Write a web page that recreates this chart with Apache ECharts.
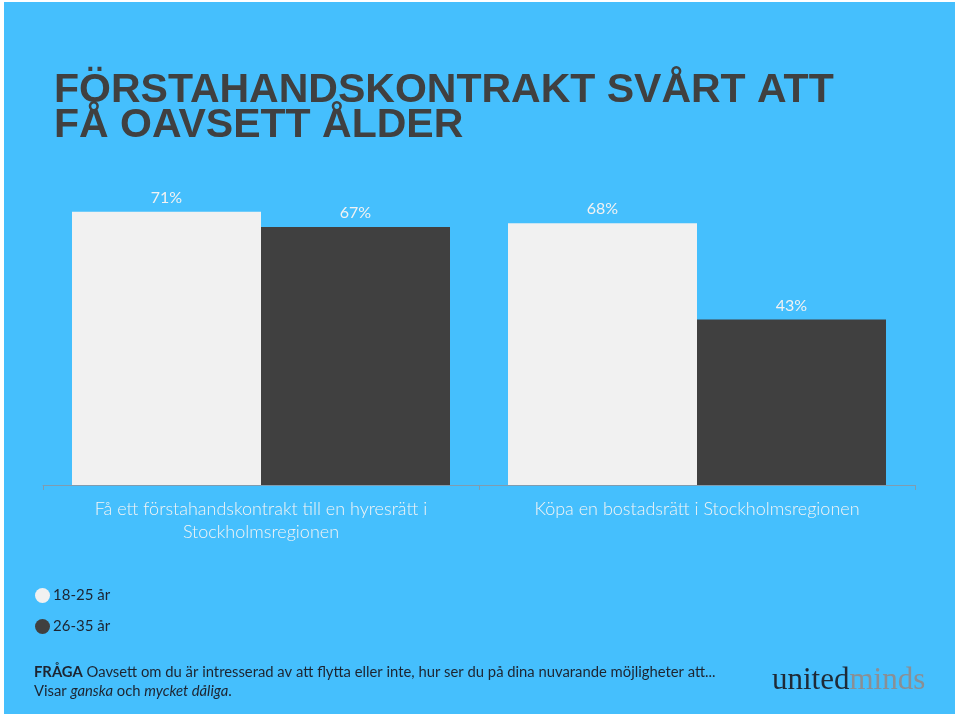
<!DOCTYPE html>
<html><head><meta charset="utf-8">
<script src="https://cdn.jsdelivr.net/npm/echarts@6/dist/echarts.min.js"></script>
<style>html,body{margin:0;padding:0;background:#fff}#c{width:960px;height:716px}</style>
</head><body><div id="c"></div>
<script>
const categories = ['Få ett förstahandskontrakt till en hyresrätt i\nStockholmsregionen', 'Köpa en bostadsrätt i Stockholmsregionen'];
const seriesNames = ['18-25 år', '26-35 år'];
const young = [71, 68];
const older = [67, 43];
const titleText = 'FÖRSTAHANDSKONTRAKT SVÅRT ATT\nFÅ OAVSETT ÅLDER';

const chart = echarts.init(document.getElementById('c'), null, {renderer: 'canvas'});
const labelStyle = {show: true, position: 'top', distance: 6, formatter: '{c}%', color: '#f2f2f2', fontFamily: 'Lato', fontSize: 16};
chart.setOption({
  backgroundColor: '#ffffff',
  animation: false,
  title: {
    text: titleText, left: 49, top: 68,
    textStyle: {fontFamily: 'Liberation Sans', fontWeight: 'bold', fontSize: 41, color: '#404040', lineHeight: 35}
  },
  graphic: [
    {type: 'rect', z: -10, shape: {x: 4, y: 2, width: 951, height: 712}, style: {fill: '#45bffd'}},
    {type: 'text', left: 34, top: 663, style: {
      text: '{b|FRÅGA} Oavsett om du är intresserad av att flytta eller inte, hur ser du på dina nuvarande möjligheter att...\nVisar {i|ganska} och {i|mycket dåliga}.',
      font: '14.8px Lato', fill: '#1d2430', lineHeight: 19,
      rich: {b: {fontWeight: 'bold', fontFamily: 'Lato', fontSize: 14.8, fill: '#1d2430'}, i: {fontStyle: 'italic', fontFamily: 'Lato', fontSize: 14.8, fill: '#1d2430'}}
    }},
    {type: 'text', left: 772, top: 665, style: {
      text: '{a|united}{m|minds}',
      rich: {a: {fontFamily: 'Liberation Serif', fontSize: 31, fill: '#1f2a36'}, m: {fontFamily: 'Liberation Serif', fontSize: 31, fill: '#8a8f94'}}
    }}
  ],
  legend: {
    orient: 'vertical', left: 30, top: 583, itemGap: 16, itemWidth: 15, itemHeight: 15, icon: 'circle',
    textStyle: {fontFamily: 'Lato', fontSize: 15, color: '#1d2430', padding: [0, 0, 0, -2]},
    data: seriesNames
  },
  grid: {left: 43, right: 45, top: 100, bottom: 231, containLabel: false},
  xAxis: {
    type: 'category', data: categories,
    axisLine: {lineStyle: {color: '#7f9cb0', width: 1}},
    axisTick: {show: true, length: 5, lineStyle: {color: '#7f9cb0'}},
    axisLabel: {color: '#f4f4f4', fontFamily: 'Lato', fontWeight: 300, fontSize: 18, lineHeight: 23, margin: 13}
  },
  yAxis: {type: 'value', min: 0, max: 100, show: false, splitLine: {show: false}},
  series: [
    {name: seriesNames[0], type: 'bar', data: young, barWidth: 189, barGap: '0%', itemStyle: {color: '#f1f1f1'}, label: labelStyle},
    {name: seriesNames[1], type: 'bar', data: older, barWidth: 189, barGap: '0%', itemStyle: {color: '#404040'}, label: labelStyle}
  ]
});
</script></body></html>
